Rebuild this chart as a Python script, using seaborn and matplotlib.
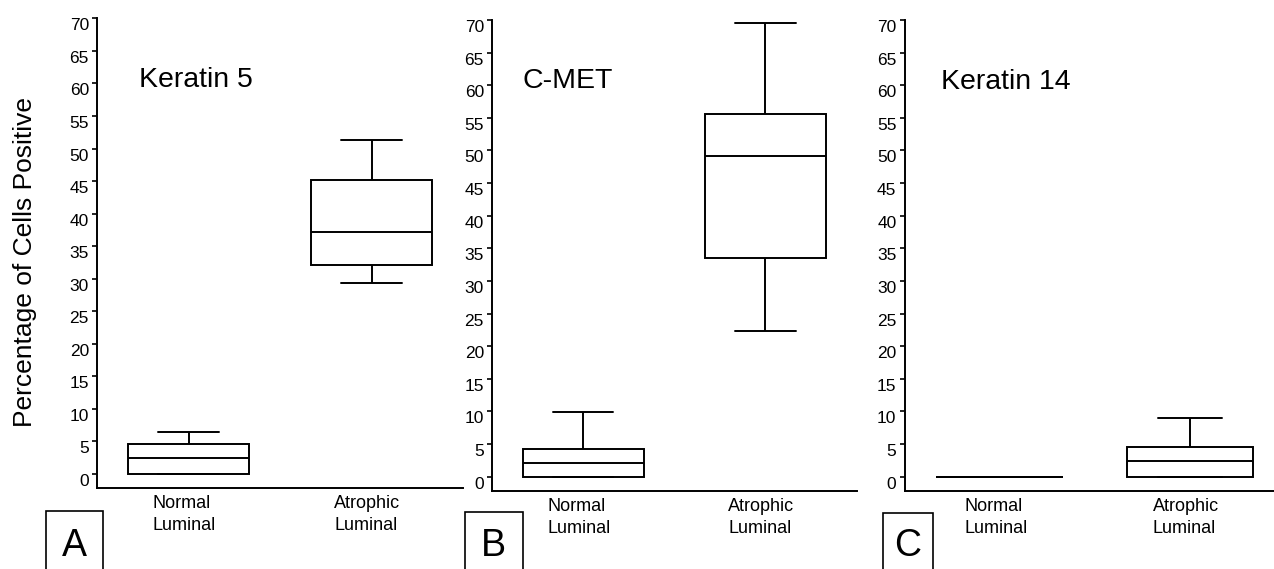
import numpy as np
import pandas as pd
import matplotlib
matplotlib.use('Agg')
import matplotlib.pyplot as plt
import matplotlib.transforms as mtransforms
from matplotlib.patches import Rectangle
import seaborn as sns

# five-number summaries: min, q1, median, q3, max
groups = ['Normal\nLuminal', 'Atrophic\nLuminal']
keratin5_normal = [0, 0, 2.5, 4.6, 6.4]
keratin5_atrophic = [29.4, 32.1, 37.1, 45.1, 51.3]
cmet_normal = [0, 0, 2.1, 4.3, 9.9]
cmet_atrophic = [22.4, 33.5, 49.2, 55.6, 69.6]
keratin14_normal = [0, 0, 0, 0, 0]
keratin14_atrophic = [0, 0, 2.4, 4.55, 9.0]

titles = ['Keratin 5', 'C-MET', 'Keratin 14']
panel_letters = ['A', 'B', 'C']
yticks = list(range(0, 71, 5))

sns.set_style('ticks')
plt.rcParams['font.family'] = ['Liberation Sans', 'DejaVu Sans']
plt.rcParams.update({'text.color': 'black', 'axes.labelcolor': 'black',
                     'xtick.color': 'black', 'ytick.color': 'black'})

W, H = 1274, 569
fig = plt.figure(figsize=(W / 100, H / 100), dpi=100)


def px_axes(left, right, bottom, top):
    return fig.add_axes([left / W, 1 - bottom / H, (right - left) / W, (bottom - top) / H])


panels = [
    # data, axes box in px (left, right, bottom, top), ymin, title pos (data), letter box px
    ([keratin5_normal, keratin5_atrophic], (97, 463, 487.7, 18.3), -2.1, (-0.27, 59.4), (46, 103.3, 511)),
    ([cmet_normal, cmet_atrophic], (492, 856.6, 491, 20), -2.2, (-0.33, 59.5), (465, 522.7, 511.7)),
    ([keratin14_normal, keratin14_atrophic], (904.5, 1285, 491, 20), -2.2, (-0.31, 59.4), (882.7, 933.3, 512.7)),
]

lw = 1.4
for i, (vals, box, ymin, tpos, lbox) in enumerate(panels):
    ax = px_axes(*box)
    df = pd.DataFrame({
        'group': np.repeat(groups, 5),
        'value': np.concatenate(vals),
    })
    sns.boxplot(data=df, x='group', y='value', order=groups, ax=ax,
                whis=(0, 100), width=0.665, color='white', linecolor='black',
                linewidth=lw, fliersize=0, capwidths=0.665 * 0.5)
    ax.set_xlim(-0.5, 1.5)
    ax.set_ylim(ymin, 70)
    ax.set_yticks(yticks)
    ax.set_xlabel('')
    ax.set_ylabel('')
    sns.despine(ax=ax)
    for s in ['left', 'bottom']:
        ax.spines[s].set_linewidth(lw)
        ax.spines[s].set_color('black')
    ax.tick_params(axis='y', length=3.3, width=1.2, pad=2.5, labelsize=12.5, colors='black')
    ax.tick_params(axis='x', length=0, pad=5, labelsize=13, colors='black')

    ydown = mtransforms.ScaledTranslation(0, -6 / 100, fig.dpi_scale_trans)
    for lab in ax.get_yticklabels():
        lab.set_transform(lab.get_transform() + ydown)
    xleft = mtransforms.ScaledTranslation(-4 / 100, 0, fig.dpi_scale_trans)
    for lab in ax.get_xticklabels():
        lab.set_multialignment('left')
        lab.set_linespacing(1.4)
        lab.set_transform(lab.get_transform() + xleft)

    ax.text(tpos[0], tpos[1], titles[i], fontsize=20.5, ha='left', va='baseline')

    # panel letter box at the bottom left
    x0, x1, ytop = lbox
    fig.patches.append(Rectangle((x0 / W, -0.05), (x1 - x0) / W, (H - ytop) / H + 0.05,
                                 transform=fig.transFigure, fill=False,
                                 edgecolor='black', linewidth=1.2))
    fig.text((x0 + x1) / 2 / W, 1 - 556.5 / H, panel_letters[i], fontsize=27,
             ha='center', va='baseline')

fig.text(25 / W, 1 - 262 / H, 'Percentage of Cells Positive', rotation=90,
         fontsize=19, ha='center', va='center')

fig.savefig('out.png', dpi=100)
